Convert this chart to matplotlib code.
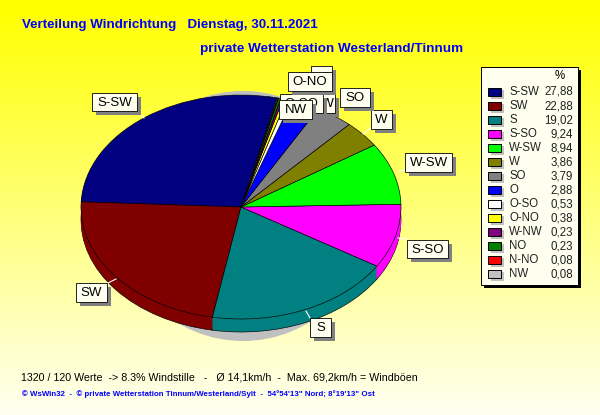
import numpy as np
import matplotlib
matplotlib.use("Agg")
import matplotlib.pyplot as plt
from matplotlib.patches import Rectangle, Ellipse

plt.rcParams["font.family"] = ["Liberation Sans", "DejaVu Sans"]

# ── Data ─────────────────────────────────────────────────────────────────────
directions = ["S-SW", "SW", "S", "S-SO", "W-SW", "W", "SO", "O",
              "O-SO", "O-NO", "W-NW", "NO", "N-NO", "NW"]
percent = [27.88, 22.88, 19.02, 9.24, 8.94, 3.86, 3.79, 2.88,
           0.53, 0.38, 0.23, 0.23, 0.08, 0.08]
percent_text = ["27,88", "22,88", "19,02", "9,24", "8,94", "3,86", "3,79", "2,88",
                "0,53", "0,38", "0,23", "0,23", "0,08", "0,08"]
colors = ["#000080", "#800000", "#008080", "#FF00FF", "#00FF00", "#808000", "#808080",
          "#0000FF", "#FFFFFF", "#FFFF00", "#800080", "#008000", "#FF0000", "#C0C0C0"]

title_1 = "Verteilung Windrichtung   Dienstag, 30.11.2021"
title_2 = "private Wetterstation Westerland/Tinnum"
info = "1320 / 120 Werte  -> 8.3% Windstille   -   Ø 14,1km/h  -  Max. 69,2km/h = Windböen"
footer = "© WsWin32  -  © private Wetterstation Tinnum/Westerland/Sylt  -  54°54'13\" Nord; 8°19'13\" Ost"

W, H = 600, 415
fig = plt.figure(figsize=(W / 100, H / 100), dpi=100)

# ── Background gradient ──────────────────────────────────────────────────────
bg = fig.add_axes([0, 0, 1, 1], zorder=0)
grad = np.ones((H, 1, 3))
grad[:, 0, 2] = np.clip(np.linspace(-0.02, 0.95, H), 0, 1)
bg.imshow(grad, aspect="auto", extent=(0, W, H, 0))
bg.set_xlim(0, W)
bg.set_ylim(H, 0)
bg.axis("off")
# silver shadow behind the pie
bg.add_patch(Ellipse((243, 216), 252, 250, fc="#C0C0C0", ec="none"))

# ── Pie, drawn as stacked ellipses for the 3D rim ────────────────────────────
CX, CY, RX, RY = 241, 207, 160, 112
DEPTH = 13
START = 77

ax = fig.add_axes([(CX - RX) / W, 1 - (CY + RY) / H, 2 * RX / W, 2 * RY / H], zorder=1)

def draw_pie(offset_px, edge=None):
    center = (0, -offset_px / RY)
    props = {"linewidth": 0.45 if edge else 0, "edgecolor": edge or "none", "clip_on": False}
    ax.pie(percent, colors=colors, startangle=START, counterclock=True, center=center,
           radius=1, wedgeprops=props, frame=False)

draw_pie(DEPTH, edge="black")
for off in range(DEPTH - 1, 0, -1):
    draw_pie(off)
draw_pie(0, edge="black")
ax.set_aspect("auto")
ax.set_xlim(-1, 1)
ax.set_ylim(-1, 1)
ax.axis("off")

# ── Overlay in pixel coordinates ─────────────────────────────────────────────
ov = fig.add_axes([0, 0, 1, 1], zorder=2)
ov.set_xlim(0, W)
ov.set_ylim(H, 0)
ov.axis("off")
ov.patch.set_alpha(0)

PAPER = "#FFFFF0"

def label_box(text, x0, y0, x1, y1, z):
    ov.add_patch(Rectangle((x0 + 4, y0 + 4), x1 - x0, y1 - y0, fc="#808080", ec="none", zorder=z))
    ov.add_patch(Rectangle((x0, y0), x1 - x0, y1 - y0, fc=PAPER, ec="black", lw=0.6, zorder=z))
    ov.text((x0 + x1) / 2, (y0 + y1) / 2 + 0.5, text, ha="center", va="center",
            fontsize=9.5, color="black", zorder=z)

leaders = [((108, 283), (116, 279)), ((363, 134), (372, 127)), ((137, 111), (144, 118)),
           ((310, 318), (306, 311)), ((407, 239), (398, 238)), ((405, 170), (399, 171))]
for a, b in leaders:
    ov.plot([a[0], b[0]], [a[1], b[1]], color="white", lw=0.8, zorder=3)

label_box("S-SW", 92, 93, 137, 111, 4)
label_box("SW", 76, 283, 107, 302, 4)
label_box("S", 310, 318, 331, 337, 4)
label_box("S-SO", 407, 240, 448, 258, 4)
label_box("W-SW", 405, 153, 452, 172, 4)
label_box("W", 371, 110, 392, 129, 4)
label_box("SO", 340, 88, 370, 107, 4)
label_box("NO", 311, 66, 332, 89, 4)
label_box("W-NW", 296, 94, 335, 113, 4)
label_box("O-SO", 280, 94, 323, 113, 5)
label_box("O-NO", 288, 72, 332, 91, 6)
label_box("NW", 279, 100, 312, 119, 7)

# legend panel
ov.add_patch(Rectangle((484, 70), 97, 218, fc="black", ec="none", zorder=8))
ov.add_patch(Rectangle((481, 67), 97, 218, fc=PAPER, ec="black", lw=0.7, zorder=9))
ov.text(560, 76, "%", ha="center", va="center", fontsize=8.3, zorder=10)
for i, (name, txt, col) in enumerate(zip(directions, percent_text, colors)):
    y = 92 + i * 14
    ov.add_patch(Rectangle((491, y - 2), 13, 9, fc="#C0C0C0", ec="none", zorder=10))
    ov.add_patch(Rectangle((488, y - 4), 13, 8, fc=col, ec="black", lw=0.7, zorder=11))
    ov.text(509, y, name, ha="left", va="center", fontsize=8.3, color="#202020", zorder=11)
    ov.text(573, y, txt, ha="right", va="center", fontsize=8.3, color="#202020", zorder=11)

# titles and notes
ov.text(22, 25, title_1, ha="left", va="center", fontsize=9.6, fontweight="bold", color="#0000FF")
ov.text(200, 49, title_2, ha="left", va="center", fontsize=9.7, fontweight="bold", color="#0000FF")
ov.text(21, 377, info, ha="left", va="center", fontsize=7.7, color="black")
ov.text(22, 394, footer, ha="left", va="center", fontsize=5.65, color="#0000FF", fontweight="bold")

fig.savefig("out.png", dpi=100)
